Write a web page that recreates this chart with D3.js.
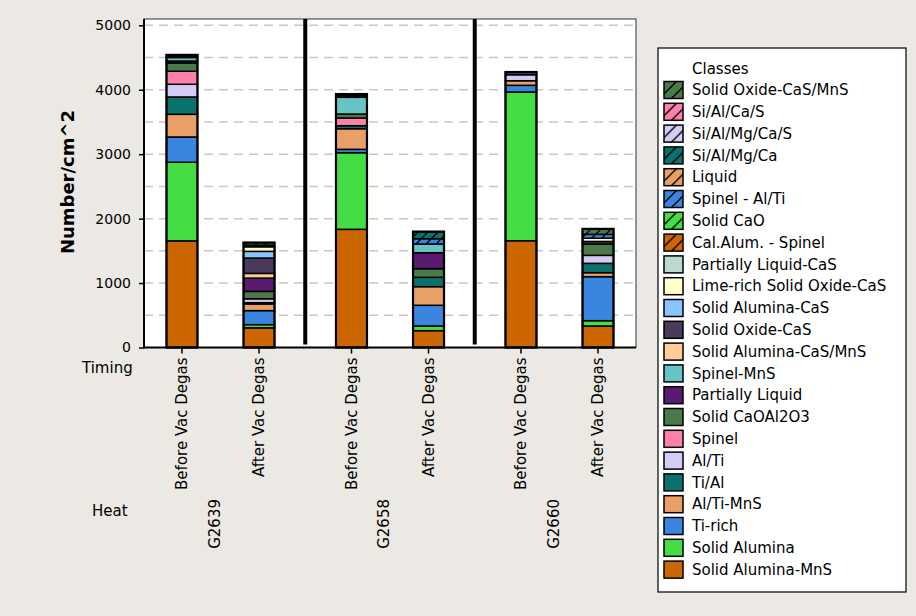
<!DOCTYPE html>
<html><head><meta charset="utf-8">
<script src="https://cdn.jsdelivr.net/npm/d3@7/dist/d3.min.js"></script>
<style>
body{margin:0;background:#ece9e4;}
svg{display:block;font-family:"DejaVu Sans",Verdana,sans-serif;}
</style>
</head><body>
<svg id="chart" width="916" height="616"></svg>
<script>
// ---------- DATA ----------
const heats = ["G2639", "G2658", "G2660"];
const timings = ["Before Vac Degas", "After Vac Degas"];
// stacking order, bottom -> top
const classes = [
  "Solid Alumina-MnS", "Solid Alumina", "Ti-rich", "Al/Ti-MnS", "Ti/Al", "Al/Ti",
  "Spinel", "Solid CaOAl2O3", "Partially Liquid", "Spinel-MnS", "Solid Alumina-CaS/MnS",
  "Solid Oxide-CaS", "Solid Alumina-CaS", "Lime-rich Solid Oxide-CaS", "Partially Liquid-CaS",
  "Cal.Alum. - Spinel", "Solid CaO", "Spinel - Al/Ti", "Liquid", "Si/Al/Mg/Ca",
  "Si/Al/Mg/Ca/S", "Si/Al/Ca/S", "Solid Oxide-CaS/MnS"
];
const classColors = [
  "#cc6600", "#44dd44", "#3a85e0", "#e8a068", "#0b716c", "#d4ccf4",
  "#ff80aa", "#4a7a48", "#5a1a70", "#66c4c4", "#ffcc99",
  "#4a3a5c", "#88c4ff", "#ffffcc", "#bcd8d0",
  "#cc6600", "#44dd44", "#3a85e0", "#e8a068", "#0b716c",
  "#d4ccf4", "#ff80aa", "#4a7a48"
];
const classHatched = [
  false, false, false, false, false, false,
  false, false, false, false, false,
  false, false, false, false,
  true, true, true, true, true,
  true, true, true
];
// values per bar, in class order (bottom -> top)
const g2639Before = [1655, 1220, 392, 352, 269, 197, 202, 129, 30, 55, 0, 20, 0, 0, 0, 0, 0, 0, 0, 0, 0, 0, 20];
const g2639After  = [305, 50, 217, 104, 20, 60, 0, 115, 206, 0, 73, 238, 104, 71, 0, 0, 0, 0, 0, 25, 0, 0, 40];
const g2658Before = [1834, 1189, 52, 320, 47, 0, 119, 62, 0, 260, 0, 25, 0, 0, 0, 0, 0, 0, 0, 0, 0, 0, 25];
const g2658After  = [261, 73, 321, 289, 145, 0, 0, 134, 248, 135, 0, 0, 0, 0, 0, 0, 0, 82, 0, 110, 0, 0, 0];
const g2660Before = [1657, 2308, 104, 71, 0, 93, 0, 0, 0, 0, 0, 42, 0, 0, 0, 0, 0, 0, 0, 0, 0, 0, 0];
const g2660After  = [334, 82, 683, 62, 145, 124, 0, 176, 0, 0, 0, 40, 0, 50, 0, 0, 0, 60, 0, 0, 0, 0, 85];
const yTicks = [0, 1000, 2000, 3000, 4000, 5000];
const yGrid = [500, 1000, 1500, 2000, 2500, 3000, 3500, 4000, 4500, 5000];
const yTitle = "Number/cm^2";
const legendTitle = "Classes";

// ---------- BUILD TABLE ----------
const barValues = [
  [g2639Before, g2639After],
  [g2658Before, g2658After],
  [g2660Before, g2660After]
];
const rows = [];
heats.forEach((h, hi) => timings.forEach((t, ti) => {
  const r = {heat: h, timing: t};
  classes.forEach((c, ci) => r[c] = barValues[hi][ti][ci]);
  rows.push(r);
}));

// ---------- LAYOUT ----------
const svg = d3.select("#chart");
const plot = {left: 144, right: 636, top: 19, bottom: 347.5};
const y = d3.scaleLinear().domain([0, 5098]).range([plot.bottom, plot.top]);
const xGroup = d3.scaleBand().domain(heats).range([plot.left - 8.25, plot.right + 8.25]).padding(0);
const xTime = d3.scalePoint().domain(timings).range([0, xGroup.bandwidth()]).padding(0.6);
const barW = 31;
const xc = d => xGroup(d.heat) + xTime(d.timing);

// hatch patterns (bars: user space; legend: bounding box)
const defs = svg.append("defs");
classes.forEach((c, i) => {
  if (!classHatched[i]) return;
  const p = defs.append("pattern").attr("id", "hatch" + i)
    .attr("patternUnits", "userSpaceOnUse").attr("width", 10).attr("height", 10);
  p.append("rect").attr("width", 10).attr("height", 10).attr("fill", classColors[i]);
  p.append("path").attr("d", "M0,10L10,0M-2,2L2,-2M8,12L12,8")
    .attr("stroke", "#000").attr("stroke-width", 1.3);
  const q = defs.append("pattern").attr("id", "lhatch" + i)
    .attr("patternUnits", "userSpaceOnUse").attr("x", 664).attr("y", 0)
    .attr("width", 12).attr("height", 12);
  q.append("rect").attr("width", 12).attr("height", 12).attr("fill", classColors[i]);
  q.append("path").attr("d", "M0,12L12,0M-2,2L2,-2M10,14L14,10")
    .attr("stroke", "#000").attr("stroke-width", 1.4);
});
const fillOf = i => classHatched[i] ? `url(#hatch${i})` : classColors[i];
const legendFillOf = i => classHatched[i] ? `url(#lhatch${i})` : classColors[i];

// plot background
svg.append("rect").attr("x", plot.left).attr("y", plot.top)
  .attr("width", plot.right - plot.left).attr("height", plot.bottom - plot.top)
  .attr("fill", "#fff").attr("stroke", "#333").attr("stroke-width", 1);

// grid
svg.append("g").selectAll("line").data(yGrid).join("line")
  .attr("x1", plot.left).attr("x2", plot.right)
  .attr("y1", d => y(d)).attr("y2", d => y(d))
  .attr("stroke", "#c8c8c8").attr("stroke-width", 1.5).attr("stroke-dasharray", "9,6");

// stacked bars
const stacked = d3.stack().keys(classes)(rows);
const gBars = svg.append("g");
stacked.forEach((series, si) => {
  gBars.append("g").selectAll("rect")
    .data(series.filter(d => d[1] - d[0] > 0)).join("rect")
    .attr("x", d => xc(d.data) - barW / 2)
    .attr("width", barW)
    .attr("y", d => y(d[1]))
    .attr("height", d => y(d[0]) - y(d[1]))
    .attr("fill", fillOf(si))
    .attr("stroke", "#000").attr("stroke-width", 1.5);
});
// bar outlines
svg.append("g").selectAll("rect").data(rows).join("rect")
  .attr("x", d => xc(d) - barW / 2).attr("width", barW)
  .attr("y", d => y(d3.sum(classes, c => d[c])))
  .attr("height", d => y(0) - y(d3.sum(classes, c => d[c])))
  .attr("fill", "none").attr("stroke", "#000").attr("stroke-width", 2.2);

// group separators
svg.append("g").selectAll("line").data(heats.slice(1)).join("line")
  .attr("x1", d => xGroup(d)).attr("x2", d => xGroup(d))
  .attr("y1", plot.top).attr("y2", plot.bottom - 3)
  .attr("stroke", "#000").attr("stroke-width", 4);

// y axis
const yAxis = d3.axisLeft(y).tickValues(yTicks).tickSize(5).tickPadding(8).tickFormat(d3.format("d"));
const gy = svg.append("g").attr("transform", `translate(${plot.left},0)`).call(yAxis);
gy.select(".domain").remove();
gy.selectAll("text").attr("font-size", 14).attr("font-family", "DejaVu Sans").attr("fill", "#000");
gy.selectAll("line").attr("stroke", "#000").attr("stroke-width", 1.5);
svg.append("line").attr("x1", plot.left).attr("x2", plot.left)
  .attr("y1", plot.top).attr("y2", plot.bottom + 1).attr("stroke", "#000").attr("stroke-width", 2);

// x axis line + ticks
svg.append("line").attr("x1", plot.left - 1).attr("x2", plot.right)
  .attr("y1", plot.bottom).attr("y2", plot.bottom).attr("stroke", "#000").attr("stroke-width", 2);
svg.append("g").selectAll("line").data(rows).join("line")
  .attr("x1", d => xc(d)).attr("x2", d => xc(d))
  .attr("y1", plot.bottom).attr("y2", plot.bottom + 6)
  .attr("stroke", "#000").attr("stroke-width", 1.5);

// x labels
svg.append("g").selectAll("text").data(rows).join("text")
  .attr("transform", d => `translate(${xc(d)},${plot.bottom + 10}) rotate(-90)`)
  .attr("text-anchor", "end").attr("dy", "0.35em")
  .attr("font-size", 15).text(d => d.timing);
svg.append("g").selectAll("text").data(heats).join("text")
  .attr("transform", d => `translate(${xGroup(d) + xGroup.bandwidth() / 2 - 6},499) rotate(-90)`)
  .attr("text-anchor", "end").attr("dy", "0.35em")
  .attr("font-size", 15).text(d => d);
svg.append("text").attr("x", 82).attr("y", 373).attr("font-size", 15).text("Timing");
svg.append("text").attr("x", 92).attr("y", 516).attr("font-size", 15).text("Heat");

// y title
svg.append("text").attr("transform", "translate(74,182) rotate(-90)")
  .attr("text-anchor", "middle").attr("font-size", 18).attr("font-weight", "bold")
  .text(yTitle);

// legend
const lg = svg.append("g");
lg.append("rect").attr("x", 658).attr("y", 48).attr("width", 248).attr("height", 544)
  .attr("fill", "#fff").attr("stroke", "#000").attr("stroke-width", 1.2);
lg.append("text").attr("x", 692).attr("y", 74).attr("font-size", 15).text(legendTitle);
const legendOrder = d3.range(classes.length).reverse();
const items = lg.selectAll("g.item").data(legendOrder).join("g").attr("class", "item")
  .attr("transform", (d, i) => `translate(664,${90 + i * 21.8})`);
items.append("rect").attr("x", 0).attr("y", -8.5).attr("width", 19).attr("height", 17)
  .attr("fill", d => legendFillOf(d)).attr("stroke", "#000").attr("stroke-width", 1.5);
items.append("text").attr("x", 28).attr("y", 0).attr("dy", "0.35em")
  .attr("font-size", 15).text(d => classes[d]);
</script>
</body></html>
